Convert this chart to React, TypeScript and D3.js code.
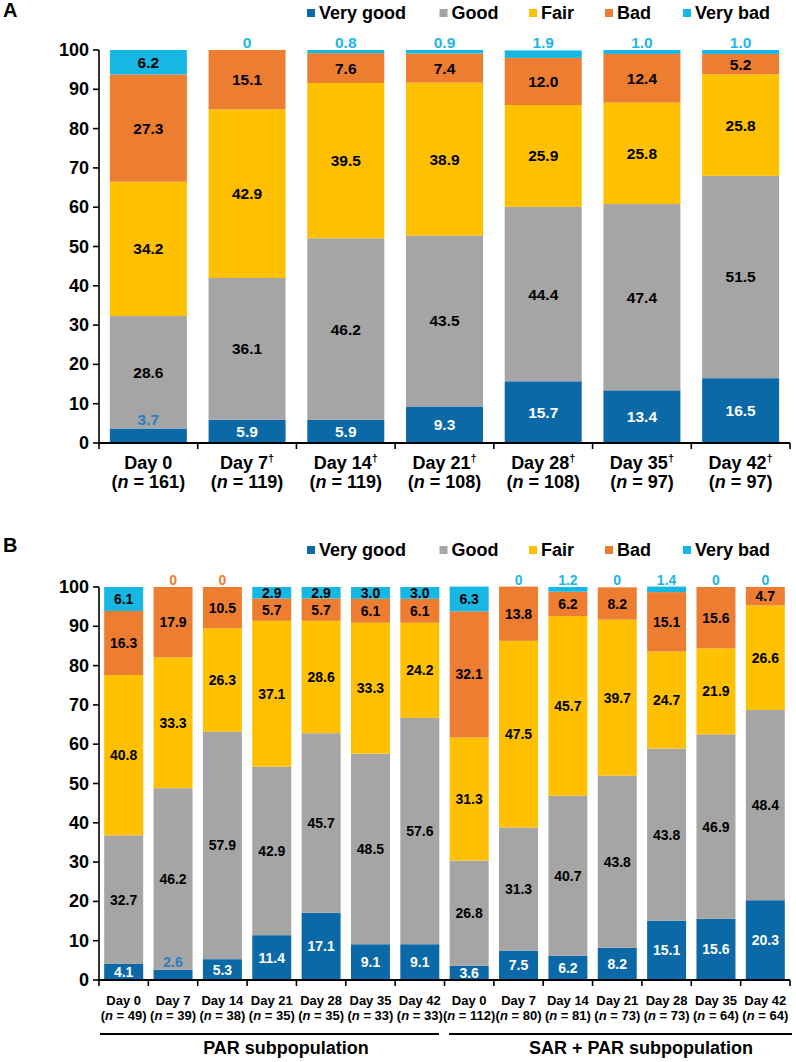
import React from "react";
import * as d3 from "d3";

// ---------- Data ----------
const categories = ["Very good", "Good", "Fair", "Bad", "Very bad"];

// Panel A
const daysA = ["Day 0", "Day 7", "Day 14", "Day 21", "Day 28", "Day 35", "Day 42"];
const nA = [161, 119, 119, 108, 108, 97, 97];
const daggerA = [false, true, true, true, true, true, true];
const veryGoodA = [3.7, 5.9, 5.9, 9.3, 15.7, 13.4, 16.5];
const goodA = [28.6, 36.1, 46.2, 43.5, 44.4, 47.4, 51.5];
const fairA = [34.2, 42.9, 39.5, 38.9, 25.9, 25.8, 25.8];
const badA = [27.3, 15.1, 7.6, 7.4, 12.0, 12.4, 5.2];
const veryBadA = [6.2, 0, 0.8, 0.9, 1.9, 1.0, 1.0];

// Panel B
const daysB = ["Day 0", "Day 7", "Day 14", "Day 21", "Day 28", "Day 35", "Day 42"];
const groupsB = ["PAR subpopulation", "SAR + PAR subpopulation"];
const nPAR = [49, 39, 38, 35, 35, 33, 33];
const nSAR = [112, 80, 81, 73, 73, 64, 64];
const veryGoodPAR = [4.1, 2.6, 5.3, 11.4, 17.1, 9.1, 9.1];
const goodPAR = [32.7, 46.2, 57.9, 42.9, 45.7, 48.5, 57.6];
const fairPAR = [40.8, 33.3, 26.3, 37.1, 28.6, 33.3, 24.2];
const badPAR = [16.3, 17.9, 10.5, 5.7, 5.7, 6.1, 6.1];
const veryBadPAR = [6.1, 0, 0, 2.9, 2.9, 3.0, 3.0];
const veryGoodSAR = [3.6, 7.5, 6.2, 8.2, 15.1, 15.6, 20.3];
const goodSAR = [26.8, 31.3, 40.7, 43.8, 43.8, 46.9, 48.4];
const fairSAR = [31.3, 47.5, 45.7, 39.7, 24.7, 21.9, 26.6];
const badSAR = [32.1, 13.8, 6.2, 8.2, 15.1, 15.6, 4.7];
const veryBadSAR = [6.3, 0, 1.2, 0, 1.4, 0, 0];

const yTicks = [0, 10, 20, 30, 40, 50, 60, 70, 80, 90, 100];

// ---------- Style ----------
const COLORS = ["#0b69a8", "#a5a5a5", "#ffc000", "#ed7d31", "#17b7e3"];
const LABEL_BLUE = "#2e7dbf";
const LABEL_CYAN = "#22b5e6";
const LABEL_ORANGE = "#ed7d31";
const FONT = "'Liberation Sans', Arial, Helvetica, sans-serif";

const fmt = d3.format(".1f");
const fmtVal = (v: number) => (v === 0 ? "0" : fmt(v));

type Bar = { key: string; vals: number[]; zeroColor: string };

function buildBars(keys: string[], series: number[][], zeroColor: (i: number) => string): Bar[] {
  return keys.map((k, i) => ({ key: k, vals: series.map((s) => s[i]), zeroColor: zeroColor(i) }));
}

function Legend({ baseline }: { baseline: number }) {
  const textX = [319, 451.5, 541, 617, 695];
  return (
    <g>
      {categories.map((c, i) => (
        <g key={c}>
          <rect x={textX[i] - 12} y={baseline - 10} width={8} height={8} fill={COLORS[i]} />
          <text x={textX[i]} y={baseline} fontSize={18} fontWeight="bold" fill="#000">
            {c}
          </text>
        </g>
      ))}
    </g>
  );
}

function Stacks({
  bars,
  x,
  y,
  fontSize,
  vgAboveThreshold,
}: {
  bars: Bar[];
  x: d3.ScaleBand<string>;
  y: d3.ScaleLinear<number, number>;
  fontSize: number;
  vgAboveThreshold: number;
}) {
  const stack = d3
    .stack<Bar, number>()
    .keys(categories.map((_, i) => i))
    .value((d, k) => d.vals[k]);
  const layers = stack(bars);
  const bw = x.bandwidth();
  const elems: React.ReactNode[] = [];
  layers.forEach((layer, li) => {
    layer.forEach((seg, bi) => {
      const bar = bars[bi];
      const x0 = x(bar.key)!;
      const top = y(seg[1]);
      const bottom = y(seg[0]);
      elems.push(
        <rect key={`r-${li}-${bi}`} x={x0} y={top} width={bw} height={Math.max(0, bottom - top)} fill={COLORS[li]} />
      );
    });
  });
  // labels
  layers.forEach((layer, li) => {
    layer.forEach((seg, bi) => {
      const bar = bars[bi];
      const v = bar.vals[li];
      const cx = x(bar.key)! + bw / 2;
      let ty: number;
      let fill = li === 0 ? "#fff" : "#000";
      let base = "central";
      if (li === 4 && v < 2) {
        ty = y(100) - 2;
        base = "auto";
        fill = v === 0 ? bar.zeroColor : LABEL_CYAN;
      } else if (li === 0 && v < vgAboveThreshold) {
        ty = y(seg[1]) - 3;
        base = "auto";
        fill = LABEL_BLUE;
      } else if (v === 0) {
        return;
      } else {
        ty = (y(seg[0]) + y(seg[1])) / 2;
      }
      elems.push(
        <text
          key={`t-${li}-${bi}`}
          x={cx}
          y={ty}
          textAnchor="middle"
          dominantBaseline={base as any}
          fontSize={fontSize}
          fontWeight="bold"
          fill={fill}
        >
          {fmtVal(v)}
        </text>
      );
    });
  });
  return <g>{elems}</g>;
}

function YAxis({ y, x0 }: { y: d3.ScaleLinear<number, number>; x0: number }) {
  return (
    <g>
      <line x1={x0} x2={x0} y1={y(100)} y2={y(0)} stroke="#000" strokeWidth={1.6} />
      {yTicks.map((t) => (
        <g key={t}>
          <line x1={x0 - 6} x2={x0} y1={y(t)} y2={y(t)} stroke="#000" strokeWidth={1.6} />
          <text x={x0 - 10} y={y(t)} textAnchor="end" dominantBaseline="central" fontSize={18} fontWeight="bold">
            {t}
          </text>
        </g>
      ))}
    </g>
  );
}

function XAxisLine({ x, y0 }: { x: d3.ScaleBand<string>; y0: number }) {
  const [r0, r1] = x.range();
  const n = x.domain().length;
  const step = (r1 - r0) / n;
  return (
    <g>
      <line x1={r0} x2={r1} y1={y0} y2={y0} stroke="#000" strokeWidth={2} />
      {d3.range(n + 1).map((i) => (
        <line key={i} x1={r0 + i * step} x2={r0 + i * step} y1={y0} y2={y0 + 6} stroke="#000" strokeWidth={1.6} />
      ))}
    </g>
  );
}

export default function App() {
  // Panel A
  const xA = d3.scaleBand<string>().domain(daysA).range([99, 790]).paddingInner(0.22).paddingOuter(0.11);
  const yA = d3.scaleLinear().domain([0, 100]).range([443, 50]);
  const barsA = buildBars(daysA, [veryGoodA, goodA, fairA, badA, veryBadA], () => LABEL_CYAN);

  // Panel B
  const keysB = [...daysB.map((d) => `PAR|${d}`), ...daysB.map((d) => `SAR|${d}`)];
  const xB = d3.scaleBand<string>().domain(keysB).range([99, 790]).paddingInner(0.21).paddingOuter(0.105);
  const yB = d3.scaleLinear().domain([0, 100]).range([980, 587]);
  const seriesB = [
    [...veryGoodPAR, ...veryGoodSAR],
    [...goodPAR, ...goodSAR],
    [...fairPAR, ...fairSAR],
    [...badPAR, ...badSAR],
    [...veryBadPAR, ...veryBadSAR],
  ];
  const barsB = buildBars(keysB, seriesB, (i) => (i < daysB.length ? LABEL_ORANGE : LABEL_CYAN));
  const nB = [...nPAR, ...nSAR];

  return (
    <svg
      width={796}
      height={1062}
      style={{ position: "absolute", left: 0, top: 0, background: "#fff" }}
      fontFamily={FONT}
    >
      <rect width={796} height={1062} fill="#fff" />
      {/* Panel A */}
      <text x={3} y={17} fontSize={20} fontWeight="bold">A</text>
      <Legend baseline={19} />
      <Stacks bars={barsA} x={xA} y={yA} fontSize={15.5} vgAboveThreshold={4} />
      <YAxis y={yA} x0={99} />
      <XAxisLine x={xA} y0={yA(0)} />
      {daysA.map((d, i) => {
        const cx = xA(d)! + xA.bandwidth() / 2;
        return (
          <g key={d} fontWeight="bold" fontSize={18}>
            <text x={cx} y={469} textAnchor="middle">
              {d}
              {daggerA[i] ? (
                <tspan fontSize={11} dy={-7}>
                  †
                </tspan>
              ) : null}
            </text>
            <text x={cx} y={488} textAnchor="middle">
              (<tspan fontStyle="italic">n</tspan> = {nA[i]})
            </text>
          </g>
        );
      })}

      {/* Panel B */}
      <text x={3} y={552} fontSize={20} fontWeight="bold">B</text>
      <Legend baseline={556} />
      <Stacks bars={barsB} x={xB} y={yB} fontSize={14} vgAboveThreshold={3} />
      <YAxis y={yB} x0={99} />
      <XAxisLine x={xB} y0={yB(0)} />
      {keysB.map((k, i) => {
        const cx = xB(k)! + xB.bandwidth() / 2;
        const day = k.split("|")[1];
        return (
          <g key={k} fontWeight="bold" fontSize={13}>
            <text x={cx} y={1005} textAnchor="middle">
              {day}
            </text>
            <text x={cx} y={1020} textAnchor="middle">
              (<tspan fontStyle="italic">n</tspan> = {nB[i]})
            </text>
          </g>
        );
      })}
      <line x1={100} x2={439} y1={1034} y2={1034} stroke="#000" strokeWidth={2} />
      <line x1={449} x2={792} y1={1034} y2={1034} stroke="#000" strokeWidth={2} />
      <text x={286} y={1054} textAnchor="middle" fontSize={18} fontWeight="bold">
        {groupsB[0]}
      </text>
      <text x={641} y={1054} textAnchor="middle" fontSize={18} fontWeight="bold">
        {groupsB[1]}
      </text>
    </svg>
  );
}
